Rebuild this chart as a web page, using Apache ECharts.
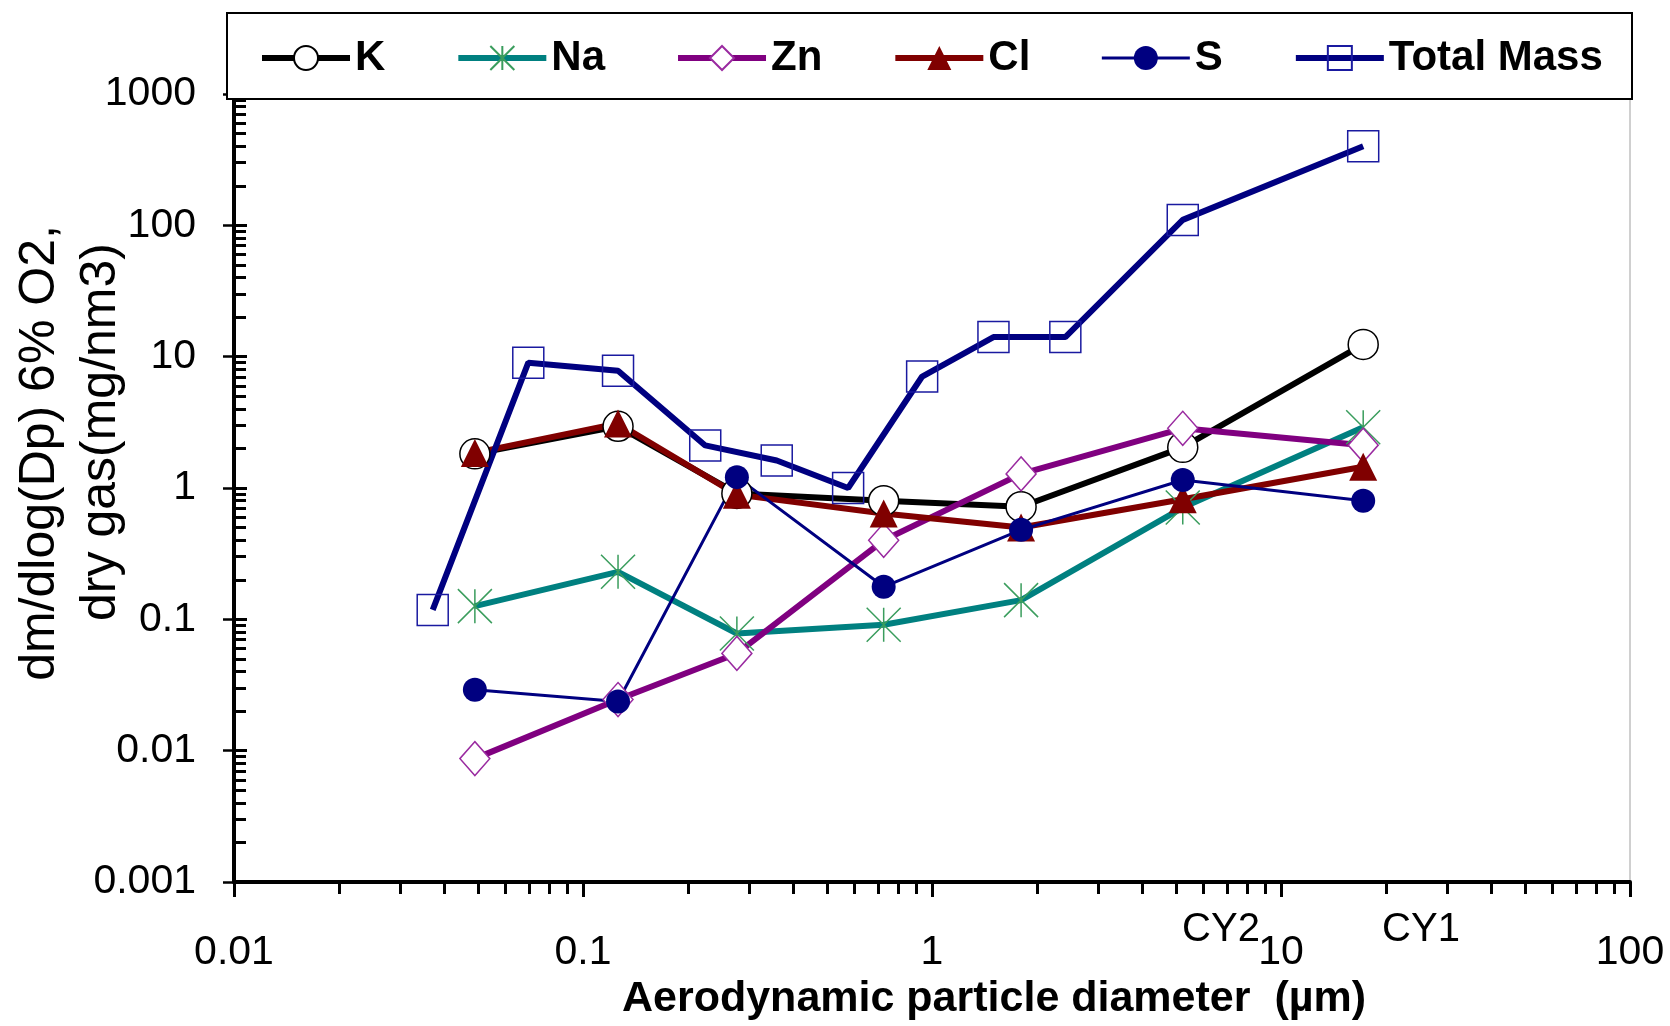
<!DOCTYPE html>
<html>
<head>
<meta charset="utf-8">
<script src="https://cdn.jsdelivr.net/npm/echarts@6/dist/echarts.min.js"></script>
<style>
  html, body { margin: 0; padding: 0; background: #fff; }
  #chart { width: 1670px; height: 1026px; }
</style>
</head>
<body>
<div id="chart"></div>
<script>
// ---- data ----
const sizes   = [0.049, 0.126, 0.276, 0.727, 1.80, 5.23, 17.2];
const tmSizes = [0.0371, 0.0697, 0.126, 0.224, 0.359, 0.575, 0.937, 1.50, 2.41, 5.23, 17.2];
const K  = [1.82, 2.95, 0.91, 0.80, 0.72, 2.04, 12.4];
const Na = [0.126, 0.23, 0.078, 0.091, 0.14, 0.71, 2.9];
const Zn = [0.0087, 0.0245, 0.055, 0.40, 1.28, 2.85, 2.12];
const Cl = [1.85, 3.1, 0.89, 0.64, 0.50, 0.82, 1.45];
const S  = [0.0291, 0.0237, 1.21, 0.177, 0.48, 1.15, 0.80];
const TM = [0.118, 9.0, 7.8, 2.11, 1.62, 1.0, 7.06, 14.1, 14.1, 110, 400];
const seriesNames = ['K', 'Na', 'Zn', 'Cl', 'S', 'Total Mass'];
const xTickLabels = ['0.01', '0.1', '1', '10', '100'];
const yTickLabels = ['0.001', '0.01', '0.1', '1', '10', '100', '1000'];
const xTitle = 'Aerodynamic particle diameter  (\u00b5m)';
const yTitleLines = ['dm/dlog(Dp) 6% O2,', 'dry gas(mg/nm3)'];
const cyLabels = ['CY2', 'CY1'];

const FONT = 'Liberation Sans, Arial, sans-serif';
const pairs = (xs, ys) => xs.map((x, i) => [x, ys[i]]);

const starPath = 'path://M0,0L10,10M10,0L0,10M5,0L5,10';

const styles = {
  'K':          { line: '#000000', width: 6, symbol: 'circle',   size: 30, fill: '#ffffff', border: '#000000', bw: 1.5 },
  'Na':         { line: '#008080', width: 6, symbol: starPath,   size: 34, fill: 'rgba(0,0,0,0)', border: '#3a9d5d', bw: 1.5 },
  'Zn':         { line: '#800080', width: 6, symbol: 'diamond',  size: [30, 34], fill: '#ffffff', border: '#9a2aa0', bw: 1.5 },
  'Cl':         { line: '#800000', width: 6, symbol: 'triangle', size: 28, fill: '#800000', border: '#800000', bw: 0 },
  'S':          { line: '#000080', width: 3, symbol: 'circle',   size: 24, fill: '#000080', border: '#000080', bw: 0 },
  'Total Mass': { line: '#000080', width: 6, symbol: 'rect',     size: 31, fill: 'rgba(0,0,0,0)', border: '#1a1aa0', bw: 1.5 }
};
const dataMap = {
  'K': pairs(sizes, K), 'Na': pairs(sizes, Na), 'Zn': pairs(sizes, Zn),
  'Cl': pairs(sizes, Cl), 'S': pairs(sizes, S), 'Total Mass': pairs(tmSizes, TM)
};

const series = seriesNames.map(name => {
  const st = styles[name];
  return {
    name, type: 'line', data: dataMap[name],
    symbol: st.symbol, symbolSize: st.size, showAllSymbol: true,
    lineStyle: { color: st.line, width: st.width },
    itemStyle: { color: st.fill, borderColor: st.border, borderWidth: st.bw },
    emphasis: { disabled: true },
    animation: false
  };
});

const chart = echarts.init(document.getElementById('chart'), null, { renderer: 'canvas' });

const axisCommon = {
  type: 'log', logBase: 10,
  splitLine: { show: false },
  minorSplitLine: { show: false }
};

chart.setOption({
  backgroundColor: '#ffffff',
  animation: false,
  grid: { left: 234, right: 40, top: 94, bottom: 141, show: true, borderColor: '#a0a0a0', borderWidth: 1, backgroundColor: 'transparent' },
  legend: {
    left: 254, top: 32,
    itemWidth: 88, itemHeight: 30, itemGap: 70,
    textStyle: { fontFamily: FONT, fontSize: 42, fontWeight: 'bold', color: '#000' },
    data: seriesNames.map(n => ({ name: n, lineStyle: { width: styles[n].width } })),
    selectedMode: false,
    z: 10
  },
  xAxis: Object.assign({}, axisCommon, {
    min: 0.01, max: 100, splitNumber: 4,
    axisLine: { lineStyle: { color: '#000', width: 4 } },
    axisTick: { show: true, inside: false, length: 15, lineStyle: { color: '#000', width: 3 } },
    minorTick: { show: true, splitNumber: 9, length: 12, lineStyle: { color: '#000', width: 3 } },
    axisLabel: {
      margin: 50, fontFamily: FONT, fontSize: 41, color: '#000',
      formatter: v => xTickLabels[Math.round(Math.log10(v)) + 2]
    },
    name: xTitle, nameLocation: 'middle', nameGap: 96,
    nameTextStyle: { fontFamily: FONT, fontSize: 43, fontWeight: 'bold', color: '#000', padding: [0, 0, 0, 124] }
  }),
  yAxis: [
    Object.assign({}, axisCommon, {
      min: 0.001, max: 1000, splitNumber: 6, position: 'left',
      axisLine: { lineStyle: { color: '#000', width: 4 } },
      axisTick: { show: true, inside: false, length: 11, lineStyle: { color: '#000', width: 2.5 } },
      minorTick: { show: false },
      axisLabel: {
        margin: 38, fontFamily: FONT, fontSize: 41, color: '#000',
        formatter: v => yTickLabels[Math.round(Math.log10(v)) + 3]
      }
    }),
    Object.assign({}, axisCommon, {
      min: 0.001, max: 1000, splitNumber: 6, position: 'left', offset: 0,
      axisLine: { show: false },
      axisTick: { show: true, inside: true, length: 13, lineStyle: { color: '#000', width: 3 } },
      minorTick: { show: true, splitNumber: 9, length: 12, lineStyle: { color: '#000', width: 3 } },
      axisLabel: { show: false }
    })
  ],
  graphic: [
    { type: 'rect', z: 5, shape: { x: 227, y: 13, width: 1405, height: 86 },
      style: { fill: '#ffffff', stroke: '#000000', lineWidth: 2 } },
    { type: 'text', z: 5, x: 40, y: 453, rotation: Math.PI / 2,
      style: { text: yTitleLines[0], font: '50px ' + FONT, fill: '#000', align: 'center', verticalAlign: 'middle' } },
    { type: 'text', z: 5, x: 101, y: 432, rotation: Math.PI / 2,
      style: { text: yTitleLines[1], font: '50px ' + FONT, fill: '#000', align: 'center', verticalAlign: 'middle' } },
    { type: 'text', z: 5, x: 1221, y: 930,
      style: { text: cyLabels[0], font: '40px ' + FONT, fill: '#000', align: 'center', verticalAlign: 'middle' } },
    { type: 'text', z: 5, x: 1421, y: 930,
      style: { text: cyLabels[1], font: '40px ' + FONT, fill: '#000', align: 'center', verticalAlign: 'middle' } }
  ],
  series
});
</script>
</body>
</html>
